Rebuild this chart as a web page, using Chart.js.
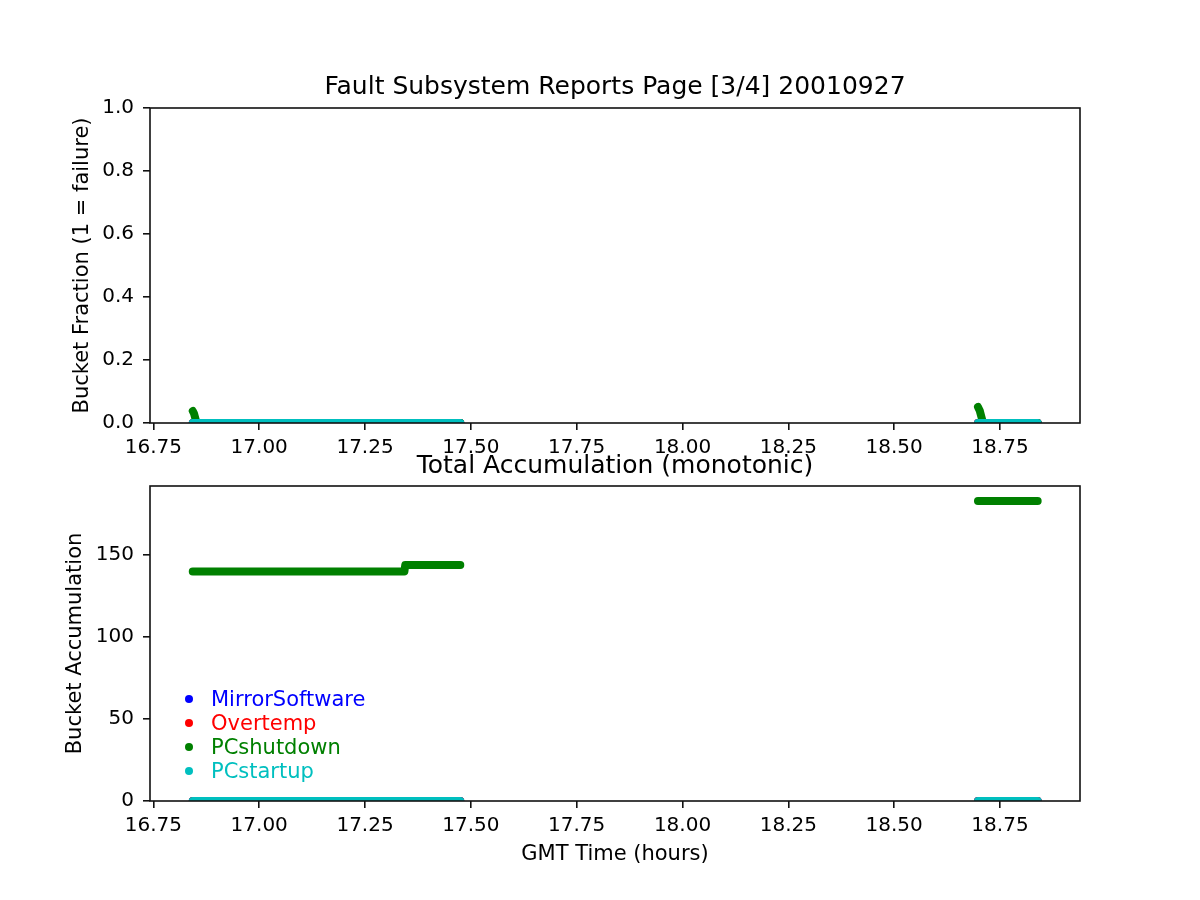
<!DOCTYPE html>
<html>
<head>
<meta charset="utf-8">
<script src="https://cdn.jsdelivr.net/npm/chart.js@4/dist/chart.umd.min.js"></script>
<style>
body{margin:0;background:#fff;font-family:"DejaVu Sans",sans-serif}
#wrap{position:relative;width:1200px;height:900px;overflow:hidden}
#c1{position:absolute;left:0;top:0}
#c2{position:absolute;left:0;top:440px}
#legend{position:absolute;left:184px;top:687px;font-size:21px;line-height:24px}
#legend div{position:relative;padding-left:27px;white-space:nowrap}
#legend span{position:absolute;left:1px;top:8px;width:8px;height:8px;border-radius:50%}
</style>
</head>
<body>
<div id="wrap">
<canvas id="c1" width="1200" height="470"></canvas>
<canvas id="c2" width="1200" height="460"></canvas>
<div id="legend"></div>
</div>
<script>
// series names / colours (legend order)
const seriesNames = ['MirrorSoftware', 'Overtemp', 'PCshutdown', 'PCstartup']
const seriesColors = ['#0000ff', '#ff0000', '#008000', '#00bfbf']

// x ticks
const xMin = 16.742
const xMax = 18.939
const xStep = 0.25

// series that stay at zero (MirrorSoftware, Overtemp, PCstartup), both panels
const zeroTimes = [16.843, 17.475, 18.0, 18.698, 18.839]
const zeroVals = [0, 0, null, 0, 0]

// PCshutdown, top panel (bucket fraction)
const shutFracTimes = [16.843, 16.846, 16.849, 16.852, 17.475, 18.0, 18.698, 18.702, 18.706, 18.71, 18.839]
const shutFracVals = [0.038, 0.03, 0.015, 0, 0, null, 0.051, 0.04, 0.02, 0, 0]

// PCshutdown, bottom panel (accumulation)
const shutAccTimes = [16.843, 17.343, 17.345, 17.475, 18.0, 18.698, 18.839]
const shutAccVals = [140, 140, 144, 144, null, 183, 183]

const FONT = "'DejaVu Sans', sans-serif"

function pts(xs, ys){
    return xs.map((x, i) => ({x: x, y: ys[i]}))
}

function makeSets(shutTimes, shutVals){
    const sets = []
    seriesNames.forEach((name, i) => {
        const isShut = name == 'PCshutdown'
        sets.push({
            label: name,
            data: isShut ? pts(shutTimes, shutVals) : pts(zeroTimes, zeroVals),
            borderColor: seriesColors[i],
            backgroundColor: seriesColors[i],
            borderWidth: 8,
            borderCapStyle: 'round',
            borderJoinStyle: 'round',
            pointRadius: 0,
            showLine: true,
            spanGaps: false,
            order: seriesNames.length - i
        })
    })
    return sets
}

// box around the plot area
const frame = {
    id: 'frame',
    afterDatasetsDraw(chart){
        const a = chart.chartArea
        const ctx = chart.ctx
        ctx.save()
        ctx.strokeStyle = '#111'
        ctx.lineWidth = 1.6
        ctx.strokeRect(Math.round(a.left), Math.round(a.top), Math.round(a.right - a.left), Math.round(a.bottom - a.top))
        ctx.restore()
    }
}

function axisX(height, title){
    return {
        type: 'linear', min: xMin, max: xMax,
        afterFit: s => { s.height = height },
        grid: {drawOnChartArea: false, color: '#111', tickLength: 7, lineWidth: 1.6},
        border: {display: false},
        ticks: {stepSize: xStep, includeBounds: false, color: '#000', padding: 6, maxRotation: 0,
            font: {family: FONT, size: 20}, callback: v => v.toFixed(2)},
        title: title
    }
}

function axisY(max, step, digits, label, pad){
    return {
        min: 0, max: max,
        afterFit: s => { s.width = 150 },
        grid: {drawOnChartArea: false, color: '#111', tickLength: 7, lineWidth: 1.6},
        border: {display: false},
        ticks: {stepSize: step, includeBounds: false, color: '#000', padding: 9,
            font: {family: FONT, size: 20}, callback: v => v.toFixed(digits)},
        title: {display: true, text: label, color: '#000', padding: {top: pad},
            font: {family: FONT, size: 21}}
    }
}

new Chart(document.getElementById('c1'), {
    type: 'scatter',
    data: {datasets: makeSets(shutFracTimes, shutFracVals)},
    options: {
        responsive: false, animation: false,
        layout: {padding: {left: 0, right: 120, top: 0, bottom: 0}},
        plugins: {
            legend: {display: false}, tooltip: {enabled: false},
            title: {display: true, fullSize: false, text: 'Fault Subsystem Reports Page [3/4] 20010927', color: '#000',
                font: {family: FONT, size: 25, weight: 'normal'}, padding: {top: 72.5, bottom: 5.5}}
        },
        scales: {
            x: axisX(47, {display: false}),
            y: axisY(1, 0.2, 1, 'Bucket Fraction (1 = failure)', 70)
        }
    },
    plugins: [frame]
})

new Chart(document.getElementById('c2'), {
    type: 'scatter',
    data: {datasets: makeSets(shutAccTimes, shutAccVals)},
    options: {
        responsive: false, animation: false,
        layout: {padding: {left: 0, right: 120, top: 0, bottom: 0}},
        plugins: {
            legend: {display: false}, tooltip: {enabled: false},
            title: {display: true, fullSize: false, text: 'Total Accumulation (monotonic)', color: '#000',
                font: {family: FONT, size: 25, weight: 'normal'}, padding: {top: 11.5, bottom: 4.5}}
        },
        scales: {
            x: axisX(99, {display: true, text: 'GMT Time (hours)', color: '#000',
                padding: {bottom: 32.5}, font: {family: FONT, size: 21}}),
            y: axisY(192.15, 50, 0, 'Bucket Accumulation', 63)
        }
    },
    plugins: [frame]
})

// legend inside the lower panel
const leg = document.getElementById('legend')
seriesNames.forEach((name, i) => {
    const row = document.createElement('div')
    row.style.color = seriesColors[i]
    row.innerHTML = '<span style="background:' + seriesColors[i] + '"></span>' + name
    leg.appendChild(row)
})
</script>
</body>
</html>
